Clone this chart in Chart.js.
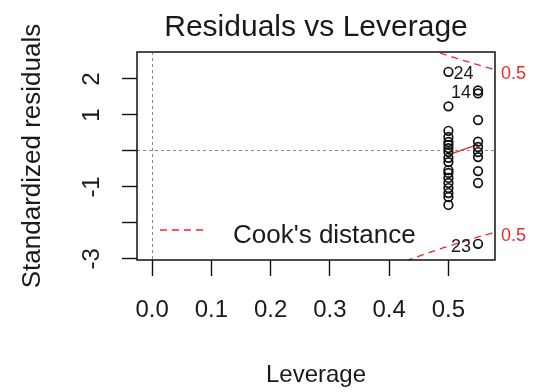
<!DOCTYPE html>
<html>
<head>
<meta charset="utf-8">
<title>Residuals vs Leverage</title>
<style>
  html, body { margin: 0; padding: 0; background: #ffffff; }
  #wrap { width: 533px; height: 392px; }
</style>
<script src="https://cdn.jsdelivr.net/npm/chart.js@4.4.1/dist/chart.umd.min.js"></script>
</head>
<body>
<div id="wrap"><canvas id="c" width="533" height="392"></canvas></div>
<script>
// Leverage (hat value) of each observation
const leverage = [
  0.5, 0.5, 0.5, 0.5, 0.5, 0.5, 0.5, 0.5, 0.5,
  0.5, 0.5, 0.5, 0.5, 0.5, 0.5, 0.5, 0.5, 0.5,
  0.55, 0.55, 0.55, 0.55, 0.55, 0.55, 0.55, 0.55, 0.55, 0.55
];
// Standardized residual of each observation
const stdResid = [
  2.20, 1.24, 0.56, 0.39, 0.25, 0.17, 0.08, -0.03, -0.19,
  -0.31, -0.53, -0.61, -0.75, -0.89, -1.03, -1.17, -1.28, -1.50,
  1.68, 1.60, 0.86, 0.26, 0.11, -0.03, -0.17, -0.56, -0.89, -2.58
];
// Observation numbers printed beside the most extreme residuals
const pointIds = [
  '24', '', '', '', '', '', '', '', '',
  '', '', '', '', '', '', '', '', '',
  '14', '', '', '', '', '', '', '', '', '23'
];

// Smoothed trend of the residuals
const smoothLeverage = [0.5, 0.55];
const smoothResid = [-0.11, 0.18];

// Cook's distance contour levels and number of model coefficients
const cookLevels = [0.5];
const nCoef = 14;

// Axis ticks
const xTicks = [0, 0.1, 0.2, 0.3, 0.4, 0.5];
const xTickLabels = ['0.0', '0.1', '0.2', '0.3', '0.4', '0.5'];
const yTicks = [-3, -2, -1, 0, 1, 2];
const yTickLabels = ['-3', '', '-1', '', '1', '2'];

// Plot ranges
const xRange = [-0.0255, 0.5786];
const yRange = [-3.03, 2.75];

const FONT = "'Liberation Sans', Arial, Helvetica, sans-serif";
const INK = '#1a1a1a';
const RED = '#ee2a2a';
Chart.defaults.font.family = FONT;
Chart.defaults.color = INK;

// Contour r = ±sqrt(D * p * (1 - h) / h)
function cookResid(level, h) {
  return Math.sqrt(level * nCoef * (1 - h) / h);
}
function cookCurve(level, sign) {
  const pts = [];
  const h0 = 0.3, h1 = xRange[1], n = 90;
  for (let i = 0; i <= n; i++) {
    const h = h0 + (h1 - h0) * i / n;
    pts.push({ x: h, y: sign * cookResid(level, h) });
  }
  return pts;
}

const points = leverage.map((h, i) => ({ x: h, y: stdResid[i] }));
const smooth = smoothLeverage.map((h, i) => ({ x: h, y: smoothResid[i] }));

const cookSets = [];
cookLevels.forEach(level => {
  [1, -1].forEach(sign => {
    cookSets.push({
      type: 'line',
      data: cookCurve(level, sign),
      borderColor: RED,
      borderWidth: 1.3,
      borderDash: [7, 5],
      pointRadius: 0,
      tension: 0,
      clip: 0
    });
  });
});

// Only the zero reference lines are shown inside the plot
const zeroLine = c => (c.tick && c.tick.value === 0) ? '#8a8a8a' : 'rgba(0,0,0,0)';

const decorations = {
  id: 'decorations',
  afterDatasetsDraw(chart) {
    const { ctx, chartArea: a, scales } = chart;
    const ys = scales.y;

    // plot frame
    ctx.save();
    ctx.strokeStyle = '#111111';
    ctx.lineWidth = 1.5;
    ctx.strokeRect(a.left, a.top, a.right - a.left, a.bottom - a.top);
    ctx.restore();

    // observation labels: left of the point on the right half, right of it otherwise
    const meta = chart.getDatasetMeta(0);
    const labelled = leverage.filter((h, i) => pointIds[i] !== '');
    const mid = (Math.min(...labelled) + Math.max(...labelled)) / 2;
    ctx.save();
    ctx.font = '18px ' + FONT;
    ctx.fillStyle = INK;
    ctx.textBaseline = 'middle';
    pointIds.forEach((id, i) => {
      if (!id) return;
      const el = meta.data[i];
      if (leverage[i] > mid) {
        ctx.textAlign = 'right';
        ctx.fillText(id, el.x - 7, el.y + 3);
      } else {
        ctx.textAlign = 'left';
        ctx.fillText(id, el.x + 5, el.y + 2);
      }
    });
    ctx.restore();

    // contour level labels in the right margin
    ctx.save();
    ctx.font = '18px ' + FONT;
    ctx.fillStyle = RED;
    ctx.textAlign = 'left';
    ctx.textBaseline = 'middle';
    const hMax = xRange[1];
    cookLevels.forEach(level => {
      [1, -1].forEach(sign => {
        const py = ys.getPixelForValue(sign * cookResid(level, hMax));
        ctx.fillText(String(level), a.right + 6, py + 4);
      });
    });
    ctx.restore();

    // legend
    ctx.save();
    ctx.strokeStyle = RED;
    ctx.lineWidth = 1.3;
    ctx.setLineDash([7, 5]);
    ctx.beginPath();
    ctx.moveTo(a.left + 23, a.top + 178);
    ctx.lineTo(a.left + 66, a.top + 178);
    ctx.stroke();
    ctx.setLineDash([]);
    ctx.font = '26px ' + FONT;
    ctx.fillStyle = INK;
    ctx.textAlign = 'left';
    ctx.textBaseline = 'alphabetic';
    ctx.fillText("Cook's distance", a.left + 96, a.top + 191);
    ctx.restore();
  }
};

new Chart(document.getElementById('c'), {
  type: 'scatter',
  data: {
    datasets: [
      {
        type: 'scatter',
        data: points,
        pointStyle: 'circle',
        pointRadius: 4.3,
        pointBorderWidth: 1.7,
        pointBorderColor: '#111111',
        pointBackgroundColor: 'rgba(0,0,0,0)',
        clip: false
      },
      {
        type: 'line',
        data: smooth,
        borderColor: RED,
        borderWidth: 1.3,
        pointRadius: 0,
        tension: 0
      },
      ...cookSets
    ]
  },
  options: {
    responsive: false,
    devicePixelRatio: 1,
    animation: false,
    events: [],
    layout: { padding: { left: 0, right: 38, top: 0, bottom: 0 } },
    plugins: {
      legend: { display: false },
      tooltip: { enabled: false },
      title: {
        display: true,
        text: 'Residuals vs Leverage',
        fullSize: false,
        color: INK,
        font: { size: 30, weight: 'normal', family: FONT },
        padding: { top: 10, bottom: 6 }
      }
    },
    scales: {
      x: {
        type: 'linear',
        min: xRange[0],
        max: xRange[1],
        afterBuildTicks: s => { s.ticks = xTicks.map(v => ({ value: v })); },
        afterFit: s => { s.height = 132; },
        ticks: {
          callback: (v, i) => xTickLabels[i],
          font: { size: 24 },
          color: INK,
          padding: 20,
          maxRotation: 0,
          autoSkip: false
        },
        grid: {
          color: zeroLine,
          lineWidth: 1,
          drawTicks: true,
          tickLength: 16,
          tickColor: '#111111',
          tickWidth: 1.4,
          tickBorderDash: []
        },
        border: { display: false, dash: [3, 3] },
        title: {
          display: true,
          text: 'Leverage',
          color: INK,
          font: { size: 24 },
          padding: { top: 0, bottom: 2 }
        }
      },
      y: {
        type: 'linear',
        min: yRange[0],
        max: yRange[1],
        afterBuildTicks: s => { s.ticks = yTicks.map(v => ({ value: v })); },
        afterFit: s => { s.width = 137; },
        ticks: {
          callback: (v, i) => yTickLabels[i],
          font: { size: 24 },
          color: INK,
          padding: 19,
          minRotation: 90,
          maxRotation: 90,
          crossAlign: 'center',
          autoSkip: false
        },
        grid: {
          color: zeroLine,
          lineWidth: 1,
          drawTicks: true,
          tickLength: 15,
          tickColor: '#111111',
          tickWidth: 1.4,
          tickBorderDash: []
        },
        border: { display: false, dash: [3, 3] },
        title: {
          display: true,
          text: 'Standardized residuals',
          color: INK,
          font: { size: 26 },
          padding: { top: 17, bottom: 0 }
        }
      }
    }
  },
  plugins: [decorations]
});
</script>
</body>
</html>
